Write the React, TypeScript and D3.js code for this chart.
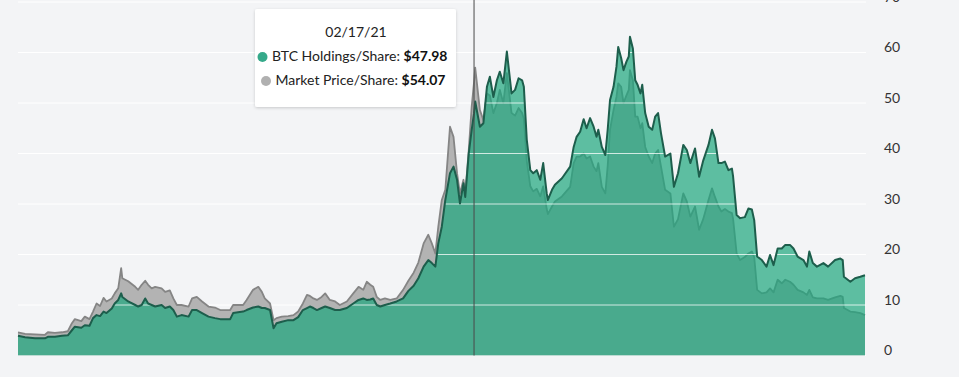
import React from 'react';
import * as d3 from 'd3';

const dates = [
  '2019-01-01','2019-01-13','2019-01-30','2019-02-16','2019-02-21','2019-03-05','2019-03-17','2019-03-27','2019-04-03','2019-04-08',
  '2019-04-19','2019-04-25','2019-05-03','2019-05-09','2019-05-15','2019-05-21','2019-05-27','2019-06-01','2019-06-10','2019-06-15',
  '2019-06-21','2019-06-26','2019-06-28','2019-07-08','2019-07-20','2019-07-25','2019-07-31','2019-08-06','2019-08-11','2019-08-17',
  '2019-08-23','2019-09-03','2019-09-09','2019-09-17','2019-09-23','2019-09-29','2019-10-07','2019-10-19','2019-10-25','2019-11-02',
  '2019-11-11','2019-11-22','2019-12-03','2019-12-12','2019-12-29','2020-01-03','2020-01-20','2020-01-26','2020-02-06','2020-02-15',
  '2020-02-21','2020-02-26','2020-03-06','2020-03-12','2020-03-17','2020-03-26','2020-04-06','2020-04-15','2020-04-23','2020-05-01',
  '2020-05-08','2020-05-13','2020-05-19','2020-05-25','2020-06-02','2020-06-08','2020-06-16','2020-06-25','2020-07-03','2020-07-15',
  '2020-07-26','2020-08-04','2020-08-12','2020-08-18','2020-08-24','2020-08-29','2020-09-04','2020-09-10','2020-09-18','2020-09-27',
  '2020-10-08','2020-10-19','2020-10-28','2020-11-06','2020-11-14','2020-11-23','2020-12-01','2020-12-07','2020-12-13','2020-12-18',
  '2020-12-24','2020-12-30','2021-01-07','2021-01-13','2021-01-19','2021-01-24','2021-01-30','2021-02-02','2021-02-08','2021-02-13',
  '2021-02-17','2021-02-19','2021-02-27','2021-03-05','2021-03-11','2021-03-16','2021-03-22','2021-03-28','2021-04-02','2021-04-08',
  '2021-04-14','2021-04-22','2021-04-28','2021-05-04','2021-05-10','2021-05-13','2021-05-18','2021-05-24','2021-05-29','2021-06-04',
  '2021-06-10','2021-06-15','2021-06-21','2021-06-23','2021-06-30','2021-07-05','2021-07-17','2021-07-31','2021-08-06','2021-08-11',
  '2021-08-17','2021-08-23','2021-08-28','2021-09-03','2021-09-09','2021-09-14','2021-09-17','2021-09-23','2021-09-29','2021-10-03',
  '2021-10-07','2021-10-13','2021-10-18','2021-10-21','2021-10-26','2021-10-30','2021-11-04','2021-11-08','2021-11-10','2021-11-15',
  '2021-11-19','2021-11-23','2021-11-28','2021-12-01','2021-12-06','2021-12-12','2021-12-18','2021-12-23','2021-12-28','2022-01-02',
  '2022-01-09','2022-01-18','2022-01-24','2022-01-31','2022-02-09','2022-02-15','2022-02-21','2022-03-01','2022-03-08','2022-03-15',
  '2022-03-24','2022-03-30','2022-04-04','2022-04-10','2022-04-15','2022-04-21','2022-04-27','2022-05-03','2022-05-05','2022-05-11',
  '2022-05-17','2022-05-25','2022-05-31','2022-06-06','2022-06-10','2022-06-15','2022-06-23','2022-07-01','2022-07-07','2022-07-13',
  '2022-07-20','2022-07-27','2022-08-02','2022-08-10','2022-08-16','2022-08-23','2022-09-02','2022-09-08','2022-09-12','2022-09-18',
  '2022-09-25','2022-10-06','2022-10-14','2022-10-26','2022-11-04','2022-11-08','2022-11-10','2022-11-21','2022-11-29','2022-12-08',
  '2022-12-16'
];

const btcHoldings = [
  3.9,3.6,3.4,3.4,3.7,3.7,3.9,4.0,5.0,5.7,
  5.5,6.0,5.9,7.4,8.0,7.8,8.7,8.4,9.3,10.3,
  11.0,12.3,11.6,10.7,10.0,9.7,10.0,11.3,10.3,10.0,
  9.7,10.0,9.4,9.7,9.0,7.7,8.0,7.7,9.0,9.0,
  8.4,7.7,7.4,7.2,7.2,8.4,8.7,9.0,9.5,9.7,
  9.4,9.4,9.0,5.4,6.4,6.7,7.0,7.0,7.6,9.0,
  9.4,9.7,9.4,9.0,9.4,9.7,9.4,9.0,9.0,9.4,
  10.3,11.0,11.3,11.0,11.1,11.3,10.0,9.7,10.0,10.3,
  10.7,11.3,12.8,13.8,15.3,17.6,18.9,18.3,17.6,22.2,
  25.5,30.8,36.1,37.4,34.8,30.1,34.1,31.4,40.0,44.7,
  47.98,50.3,45.3,46.0,53.2,55.2,51.2,54.5,56.2,53.9,
  60.2,51.9,52.6,54.9,54.5,53.2,42.7,36.7,36.1,36.7,
  34.8,38.1,32.1,30.8,32.8,33.8,35.1,37.4,41.3,43.3,
  44.3,46.8,45.0,47.0,45.3,43.3,44.7,41.3,39.7,44.7,
  50.6,53.2,57.2,61.1,58.9,56.5,58.2,59.2,63.1,60.8,
  54.5,53.6,51.9,53.6,48.0,45.3,44.7,47.3,48.0,44.0,
  39.4,40.0,33.4,36.1,41.7,40.7,38.1,41.0,35.4,38.6,
  41.7,44.7,43.0,38.1,38.1,38.4,36.7,37.0,35.4,27.8,
  27.2,27.4,29.1,28.9,26.8,19.6,18.9,17.6,19.9,17.9,
  21.2,21.2,21.9,21.9,21.2,19.6,18.9,17.6,20.6,18.3,
  17.6,18.3,17.6,18.9,19.2,18.9,15.6,14.6,15.3,15.6,
  15.9
];

const marketPrice = [
  4.6,4.3,4.2,4.1,4.6,4.5,4.6,4.8,6.4,7.2,
  6.8,7.7,7.2,8.7,10.3,9.8,11.4,10.7,11.3,12.3,
  13.3,17.3,15.3,14.7,13.6,13.0,14.0,14.8,14.0,13.3,
  13.6,13.3,12.6,12.9,11.3,10.0,10.0,9.7,11.3,11.6,
  10.7,9.7,9.5,9.0,9.0,10.0,10.0,11.0,13.0,13.6,
  12.6,11.3,10.3,7.0,7.4,7.7,7.8,8.0,8.7,10.3,
  12.0,11.8,11.3,11.0,11.6,12.3,11.0,10.7,10.0,10.7,
  12.3,13.6,13.0,14.6,14.0,13.6,11.6,11.0,11.3,11.0,
  11.3,13.0,14.8,16.4,18.4,22.2,23.9,22.2,20.2,25.5,
  30.8,32.8,45.3,43.3,36.1,32.1,34.8,32.0,40.7,49.3,
  54.07,57.0,48.6,46.6,51.9,51.5,48.0,50.0,52.6,50.0,
  55.9,48.0,47.5,49.0,48.0,46.9,38.5,33.5,32.5,33.0,
  31.5,33.5,29.0,28.0,29.5,30.5,31.5,33.4,38.1,39.4,
  39.4,40.0,39.0,39.4,37.4,36.5,38.1,33.4,32.1,37.5,
  44.7,48.6,51.2,53.9,53.2,50.0,51.5,52.6,56.5,54.5,
  47.3,47.3,45.0,46.0,41.3,39.4,38.1,40.0,40.7,37.4,
  32.8,32.1,25.5,27.0,32.1,30.5,27.5,29.5,24.9,27.0,
  30.8,33.1,31.4,29.5,28.5,29.0,28.5,28.2,27.0,20.2,
  18.9,19.5,20.2,20.6,19.5,13.0,12.3,12.5,13.3,12.5,
  15.0,14.3,15.0,14.6,14.0,13.0,12.5,12.0,13.0,11.5,
  11.3,11.3,11.0,11.5,11.8,11.6,9.4,8.7,8.6,8.4,
  8.0
];

const yTicks = [0, 10, 20, 30, 40, 50, 60, 70];
const hoverDate = '2021-02-17';
const tooltipTitle = '02/17/21';
const tooltipRows = [
  { label: 'BTC Holdings/Share: ', value: '$47.98', color: '#35a98a' },
  { label: 'Market Price/Share: ', value: '$54.07', color: '#b0b0b0' },
];

export default function App() {
  const W = 959;
  const H = 377;
  const parse = d3.utcParse('%Y-%m-%d');
  const data = dates.map((d, i) => ({ date: parse(d) as Date, h: btcHoldings[i], m: marketPrice[i] }));
  const x = d3.scaleUtc().domain(d3.extent(data, d => d.date) as [Date, Date]).range([18, 865]);
  const y = d3.scaleLinear().domain([0, 70]).range([355.5, 2]);

  const areaH = d3.area<any>().x(d => x(d.date)).y0(y(0)).y1(d => y(d.h));
  const lineH = d3.line<any>().x(d => x(d.date)).y(d => y(d.h));
  const areaM = d3.area<any>().x(d => x(d.date)).y0(y(0)).y1(d => y(d.m));
  const lineM = d3.line<any>().x(d => x(d.date)).y(d => y(d.m));

  const hx = x(parse(hoverDate) as Date);
  const font = 'Lato, "Open Sans", sans-serif';

  const grid = (stroke: string, op: number) =>
    yTicks.map(t => (
      <line key={t} x1={18} x2={866} y1={y(t)} y2={y(t)} stroke={stroke} strokeOpacity={op} strokeWidth={1} />
    ));

  return (
    <svg width={W} height={H} style={{ position: 'absolute', left: 0, top: 0, display: 'block' }}>
      <defs>
        <clipPath id="hclip">
          <path d={areaH(data) || ''} />
        </clipPath>
        <filter id="tshadow" x="-10%" y="-10%" width="120%" height="130%">
          <feDropShadow dx="0" dy="1" stdDeviation="1.5" floodColor="#000" floodOpacity="0.18" />
        </filter>
      </defs>
      <rect x={0} y={0} width={W} height={H} fill="#f3f4f6" />
      <g>{grid('#ffffff', 1)}</g>
      <path d={areaM(data) || ''} fill="#b3b3b3" />
      <path d={lineM(data) || ''} fill="none" stroke="#858585" strokeWidth={1.8} strokeLinejoin="round" />
      <path d={areaH(data) || ''} fill="rgb(29,167,126)" fillOpacity={0.7} />
      <g clipPath="url(#hclip)">{grid('#ffffff', 0.75)}</g>
      <path d={lineH(data) || ''} fill="none" stroke="#1d5e4c" strokeWidth={2} strokeLinejoin="round" />
      <line x1={hx} x2={hx} y1={0} y2={y(0)} stroke="#4a4a4a" strokeWidth={1} />
      <g fontFamily={font} fontSize={14} fill="#333">
        {yTicks.map(t => (
          <text key={t} x={884} y={y(t) - 4} dominantBaseline="middle">{t}</text>
        ))}
      </g>
      <g fontFamily={font}>
        <rect x={255} y={9} width={201} height={98} rx={2} fill="#ffffff" filter="url(#tshadow)" />
        <text x={356} y={33} textAnchor="middle" dominantBaseline="middle" fontSize={14} fill="#222">{tooltipTitle}</text>
        {tooltipRows.map((r, i) => {
          const cy = 57 + i * 24;
          const cx = i === 0 ? 262.5 : 266;
          return (
            <g key={r.label}>
              <circle cx={cx} cy={cy} r={5} fill={r.color} />
              <text x={cx + 9.5} y={cy} dominantBaseline="middle" fontSize={14} fill="#222">
                {r.label}
                <tspan fontWeight={700} fill="#111">{r.value}</tspan>
              </text>
            </g>
          );
        })}
      </g>
    </svg>
  );
}
